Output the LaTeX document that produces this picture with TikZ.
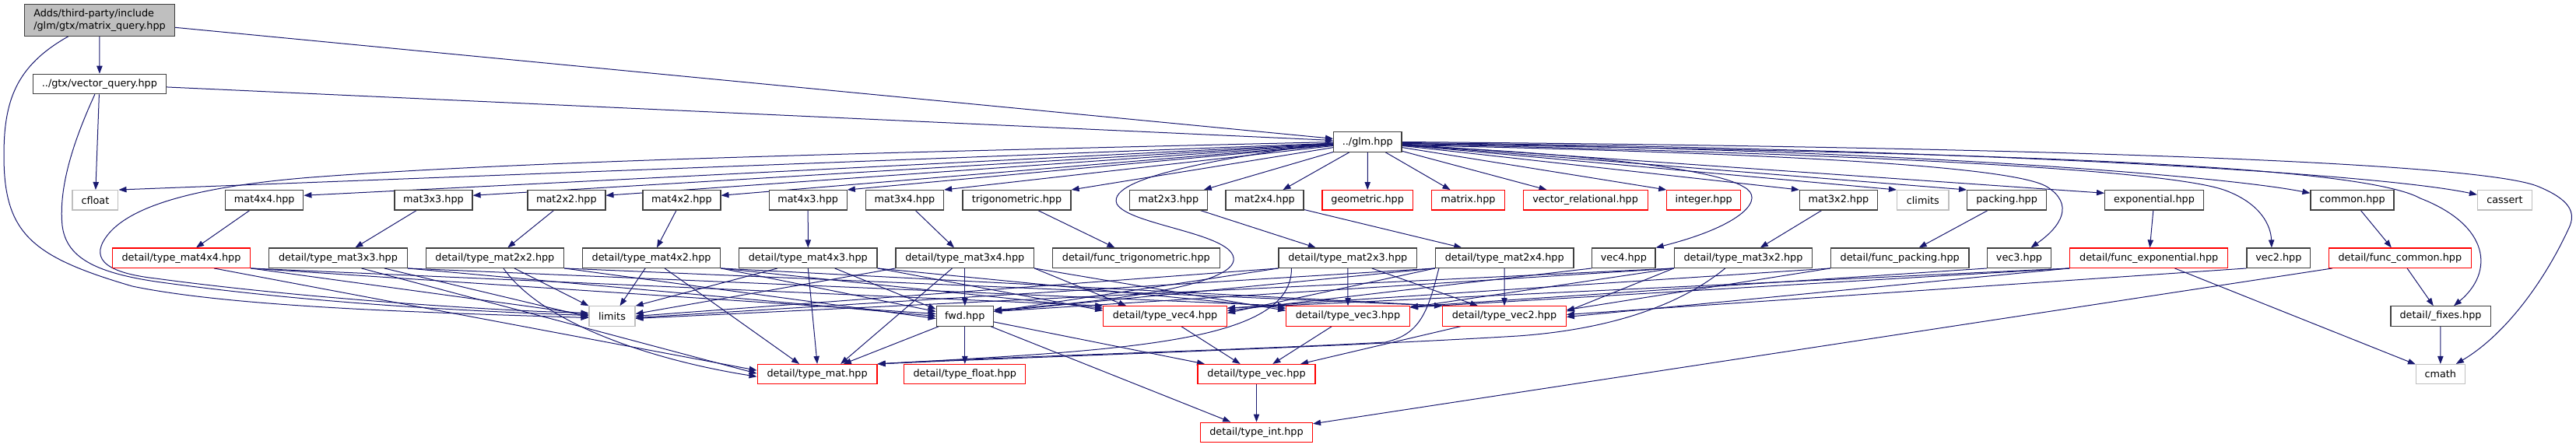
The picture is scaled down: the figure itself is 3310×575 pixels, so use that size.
\documentclass[tikz,border=0pt]{standalone}
\usepackage{fontspec}
\setmainfont{DejaVu Sans}
\usetikzlibrary{arrows.meta,calc}
\definecolor{edgeblue}{HTML}{191970}
\definecolor{nodegray}{HTML}{404040}
\definecolor{sysgray}{HTML}{BFBFBF}
\definecolor{rootfill}{HTML}{BFBFBF}
\definecolor{nodered}{HTML}{FF0000}
\pgfdeclarelayer{bg}
\pgfdeclarelayer{paper}
\pgfsetlayers{paper,bg,main}
\tikzset{
  nb/.style={draw=nodegray, line width=0.9pt, fill=white, inner sep=0pt, minimum height=19pt, font={\fontsize{9.6pt}{11.5pt}\selectfont}},
  nr/.style={nb, draw=nodered},
  ns/.style={nb, draw=sysgray},
  e/.style={draw=edgeblue, line width=0.75pt, -{Triangle[length=7.5pt,width=5.5pt]}},
}
\begin{document}
\begin{tikzpicture}[x=0.75pt,y=-0.75pt]
\begin{pgfonlayer}{paper}
\fill[white] (0,0) rectangle (3310,575);
\end{pgfonlayer}
\useasboundingbox (0,0) rectangle (3310,575);
% ---------- nodes ----------
\node[nb,fill=rootfill,minimum width=144.75pt,minimum height=30.2pt,align=left] (root) at (128,26) {Adds/third-party/include\\/glm/gtx/matrix\_query.hpp};
\node[nb,minimum width=128pt] (vq) at (127.9,108) {../gtx/vector\_query.hpp};
\node[nb,minimum width=65.6pt] (glm) at (1757.3,182.5) {../glm.hpp};
% row 2
\node[ns,minimum width=44.2pt] (cfloat) at (122.4,257.3) {cfloat};
\node[nb,minimum width=75pt] (mat4x4) at (339.8,257.3) {mat4x4.hpp};
\node[nb,minimum width=75pt] (mat3x3) at (557,257.3) {mat3x3.hpp};
\node[nb,minimum width=75pt] (mat2x2) at (727.9,257.3) {mat2x2.hpp};
\node[nb,minimum width=75pt] (mat4x2) at (875.9,257.3) {mat4x2.hpp};
\node[nb,minimum width=75pt] (mat4x3) at (1038.2,257.3) {mat4x3.hpp};
\node[nb,minimum width=75pt] (mat3x4) at (1162.5,257.3) {mat3x4.hpp};
\node[nb,minimum width=104.25pt] (trig) at (1306.5,257.3) {trigonometric.hpp};
\node[nb,minimum width=75pt] (mat2x3) at (1501.4,257.3) {mat2x3.hpp};
\node[nb,minimum width=75pt] (mat2x4) at (1625,257.3) {mat2x4.hpp};
\node[nr,minimum width=87.4pt] (geometric) at (1757.2,257.3) {geometric.hpp};
\node[nr,minimum width=70.2pt] (matrix) at (1886.4,257.3) {matrix.hpp};
\node[nr,minimum width=120pt] (vrel) at (2037.1,257.3) {vector\_relational.hpp};
\node[nr,minimum width=71.1pt] (integer) at (2189.2,257.3) {integer.hpp};
\node[nb,minimum width=75pt] (mat3x2) at (2362.5,257.3) {mat3x2.hpp};
\node[ns,minimum width=49.9pt] (climits) at (2470.8,257.3) {climits};
\node[nb,minimum width=76.4pt] (packing) at (2578.6,257.3) {packing.hpp};
\node[nb,minimum width=95.1pt] (exponential) at (2768,257.3) {exponential.hpp};
\node[nb,minimum width=80.25pt] (common) at (3022.5,257.3) {common.hpp};
\node[ns,minimum width=52.5pt] (cassert) at (3218.5,257.3) {cassert};
% row 3
\node[nr,minimum width=133.1pt] (tm4x4) at (233,331.7) {detail/type\_mat4x4.hpp};
\node[nb,minimum width=133.1pt] (tm3x3) at (434.5,331.7) {detail/type\_mat3x3.hpp};
\node[nb,minimum width=133.1pt] (tm2x2) at (635.9,331.7) {detail/type\_mat2x2.hpp};
\node[nb,minimum width=133.1pt] (tm4x2) at (837.1,331.7) {detail/type\_mat4x2.hpp};
\node[nb,minimum width=133.1pt] (tm4x3) at (1038.3,331.7) {detail/type\_mat4x3.hpp};
\node[nb,minimum width=133.1pt] (tm3x4) at (1239.8,331.7) {detail/type\_mat3x4.hpp};
\node[nb,minimum width=161pt] (ftrig) at (1459.8,331.7) {detail/func\_trigonometric.hpp};
\node[nb,minimum width=133.1pt] (tm2x3) at (1731.8,331.7) {detail/type\_mat2x3.hpp};
\node[nb,minimum width=133.1pt] (tm2x4) at (1933.2,331.7) {detail/type\_mat2x4.hpp};
\node[nb,minimum width=61pt] (vec4) at (2086.4,331.7) {vec4.hpp};
\node[nb,minimum width=133.1pt] (tm3x2) at (2240,331.7) {detail/type\_mat3x2.hpp};
\node[nb,minimum width=133.2pt] (fpack) at (2441.2,331.7) {detail/func\_packing.hpp};
\node[nb,minimum width=61.4pt] (vec3) at (2594.5,331.7) {vec3.hpp};
\node[nr,minimum width=152.1pt] (fexp) at (2761.2,331.7) {detail/func\_exponential.hpp};
\node[nb,minimum width=61.3pt] (vec2) at (2927.9,331.7) {vec2.hpp};
\node[nr,minimum width=137.1pt] (fcommon) at (3083.8,331.7) {detail/func\_common.hpp};
% row 4
\node[ns,minimum width=44.2pt] (limits) at (786.5,406.5) {limits};
\node[nb,minimum width=54.9pt] (fwd) at (1239.8,406.5) {fwd.hpp};
\node[nr,minimum width=119pt] (tv4) at (1497.1,406.5) {detail/type\_vec4.hpp};
\node[nr,minimum width=119pt] (tv3) at (1732,406.5) {detail/type\_vec3.hpp};
\node[nr,minimum width=119pt] (tv2) at (1933,406.5) {detail/type\_vec2.hpp};
\node[nb,minimum width=96.2pt] (fixes) at (3136,406.5) {detail/\_fixes.hpp};
% row 5
\node[nr,minimum width=115.4pt] (tmat) at (1050.1,481.2) {detail/type\_mat.hpp};
\node[nr,minimum width=117.1pt] (tfloat) at (1239.8,481.2) {detail/type\_float.hpp};
\node[nr,minimum width=113.3pt] (tvec) at (1614.5,481.2) {detail/type\_vec.hpp};
\node[ns,minimum width=46.9pt] (cmath) at (3135.8,481.2) {cmath};
% row 6
\node[nr,minimum width=107.9pt] (tint) at (1614.5,555.8) {detail/type\_int.hpp};
% ---------- edges ----------
\begin{pgfonlayer}{bg}
% root
\draw[e] (root) -- (vq);
\draw[e] (root) -- (glm);
\draw[e] ($(root.south west)+(57,0)$) .. controls (20,85) and (5,130) .. (5,200) .. controls (5,300) and (40,330) .. (170,368) .. controls (300,395) and (550,402) .. ($(limits.west)+(0,2)$);
% vector_query
\draw[e] (vq) -- (glm);
\draw[e] (vq) -- (cfloat);
\draw[e] ($(vq.south)+(-6,0)$) .. controls (95,180) and (75,240) .. (80,290) .. controls (85,330) and (120,350) .. (200,362) .. controls (400,390) and (600,400) .. ($(limits.west)+(0,-1)$);
% glm
\draw[e] (glm) -- (cfloat.north east);
\draw[e] (glm.west) .. controls (1200,195) and (700,205) .. (400,228) .. controls (250,240) and (170,265) .. (140,300) .. controls (115,330) and (130,350) .. (200,358) .. controls (400,385) and (650,400) .. ($(limits.west)+(0,-4)$);
\draw[e] (glm) -- ($(mat4x4.east)+(0,-6)$);
\draw[e] (glm) -- ($(mat3x3.east)+(0,-6)$);
\draw[e] (glm) -- ($(mat2x2.east)+(0,-6)$);
\draw[e] (glm) -- ($(mat4x2.east)+(0,-6)$);
\draw[e] (glm) -- (mat4x3.north east);
\draw[e] (glm) -- (mat3x4.north east);
\draw[e] (glm) -- (trig.north east);
\draw[e] (glm) -- (mat2x3);
\draw[e] (glm) -- (mat2x4);
\draw[e] (glm) -- (geometric);
\draw[e] (glm) -- (matrix);
\draw[e] (glm) -- (vrel);
\draw[e] (glm) -- (integer.north west);
\draw[e] (glm) -- (mat3x2.north west);
\draw[e] (glm) -- (climits.north west);
\draw[e] (glm) -- (packing.north west);
\draw[e] (glm) -- ($(exponential.west)+(0,-9)$);
\draw[e] ($(glm.east)+(0,2)$) .. controls (2400,190) and (2850,225) .. ($(common.west)+(0,-9)$);
\draw[e] ($(glm.east)+(0,1)$) .. controls (2500,190) and (3050,222) .. ($(cassert.west)+(0,-7)$);
\draw[e] ($(glm.east)+(0,5)$) .. controls (2000,195) and (2200,215) .. (2240,240) .. controls (2270,255) and (2240,290) .. (vec4.north east);
\draw[e] ($(glm.east)+(0,4)$) .. controls (2200,195) and (2580,210) .. (2630,240) .. controls (2665,262) and (2650,290) .. ($(vec3.north)+(15,0)$);
\draw[e] ($(glm.east)+(0,3)$) .. controls (2300,195) and (2780,215) .. (2860,245) .. controls (2905,262) and (2918,290) .. ($(vec2.north)+(-9,0)$);
\draw[e] ($(glm.east)+(0,2)$) .. controls (2400,195) and (3020,205) .. (3110,255) .. controls (3200,290) and (3205,350) .. ($(fixes.north)+(17,0)$);
\draw[e] (glm.east) .. controls (2500,188) and (3180,205) .. (3262,240) .. controls (3300,256) and (3312,272) .. (3300,295) .. controls (3270,360) and (3220,430) .. ($(cmath.north)+(20,0)$);
\draw[e] (glm.west) .. controls (1600,200) and (1420,225) .. (1435,262) .. controls (1450,290) and (1590,300) .. (1585,335) .. controls (1580,370) and (1400,390) .. ($(fwd.east)+(0,-8)$);
% row 2 -> row 3
\draw[e] (mat4x4) -- (tm4x4);
\draw[e] (mat3x3) -- (tm3x3);
\draw[e] (mat2x2) -- (tm2x2);
\draw[e] (mat4x2) -- (tm4x2);
\draw[e] (mat4x3) -- (tm4x3);
\draw[e] (mat3x4) -- (tm3x4);
\draw[e] (trig) -- (ftrig);
\draw[e] (mat2x3) -- (tm2x3);
\draw[e] (mat2x4) -- (tm2x4);
\draw[e] (mat3x2) -- (tm3x2);
\draw[e] (packing) -- (fpack);
\draw[e] (exponential) -- (fexp);
\draw[e] (common) -- (fcommon);
% type_mat4x4
\draw[e] ($(tm4x4.south)+(42,0)$) -- ($(tmat.west)+(0,-5)$);
\draw[e] (tm4x4.south east) -- ($(limits.west)+(0,-2)$);
\draw[e] (tm4x4.south east) -- ($(fwd.west)+(0,-3)$);
\draw[e] (tm4x4.south east) -- (tv4.north west);
% type_mat3x3
\draw[e] ($(tm3x3.south)+(30,0)$) -- ($(tmat.west)+(0,-1)$);
\draw[e] ($(tm3x3.south east)+(-30,0)$) -- ($(limits.west)+(0,1)$);
\draw[e] (tm3x3.south east) -- (fwd.west);
\draw[e] (tm3x3.south east) -- (tv3.north west);
% type_mat2x2
\draw[e] ($(tm2x2.south)+(11,0)$) .. controls (700,420) and (850,465) .. ($(tmat.west)+(0,3)$);
\draw[e] ($(tm2x2.south)+(25,0)$) -- (limits.north west);
\draw[e] (tm2x2.south east) -- ($(fwd.west)+(0,3)$);
\draw[e] (tm2x2.south east) -- (tv2.north west);
% type_mat4x2
\draw[e] ($(tm4x2.south)+(-8,0)$) -- ($(limits.north)+(10,0)$);
\draw[e] ($(tm4x2.south)+(17,0)$) -- ($(tmat.north)+(-23,0)$);
\draw[e] (tm4x2.south east) -- ($(fwd.west)+(0,-6)$);
\draw[e] (tm4x2.south east) -- (tv2.north west);
\draw[e] (tm4x2.south east) -- ($(tv4.north west)+(0,3)$);
% type_mat4x3
\draw[e] ($(tm4x3.south west)+(50,0)$) -- (limits.north east);
\draw[e] (tm4x3.south) -- (tmat.north);
\draw[e] ($(tm4x3.south east)+(-55,0)$) -- ($(fwd.west)+(0,-9)$);
\draw[e] (tm4x3.south east) -- ($(tv3.north west)+(0,3)$);
\draw[e] (tm4x3.south east) -- ($(tv4.north west)+(0,6)$);
% type_mat3x4
\draw[e] (tm3x4.south) -- (fwd.north);
\draw[e] ($(tm3x4.south west)+(73,0)$) -- ($(tmat.north)+(30,0)$);
\draw[e] (tm3x4.south west) -- ($(limits.east)+(0,-3)$);
\draw[e] (tm3x4.south east) -- ($(tv3.north west)+(0,6)$);
\draw[e] (tm3x4.south east) -- ($(tv4.north west)+(30,0)$);
% type_mat2x3
\draw[e] (tm2x3.south) -- (tv3.north);
\draw[e] ($(tm2x3.south)+(31,0)$) -- ($(tv2.north)+(-34,0)$);
\draw[e] (tm2x3.south west) -- ($(fwd.east)+(0,-6)$);
\draw[e] (tm2x3.south west) -- (limits.east);
\draw[e] ($(tm2x3.south west)+(17,0)$) .. controls (1660,440) and (1450,450) .. (tmat.north east);
% type_mat2x4
\draw[e] (tm2x4.south) -- (tv2.north);
\draw[e] (tm2x4.south west) -- ($(tv4.east)+(0,-4)$);
\draw[e] (tm2x4.south west) -- ($(fwd.east)+(0,-6)$);
\draw[e] (tm2x4.south west) -- ($(limits.east)+(0,2)$);
\draw[e] ($(tm2x4.south west)+(5,0)$) .. controls (1835,400) and (1825,430) .. (1780,440) .. controls (1600,450) and (1300,458) .. (tmat.north east);
% type_mat3x2
\draw[e] (tm3x2.south west) -- ($(tv2.east)+(0,-6)$);
\draw[e] (tm3x2.south west) -- ($(tv3.north east)+(0,2)$);
\draw[e] (tm3x2.south west) -- ($(fwd.east)+(0,-6)$);
\draw[e] (tm3x2.south west) -- ($(limits.east)+(0,3)$);
\draw[e] ($(tm3x2.south west)+(66,0)$) .. controls (2150,400) and (2050,425) .. (1950,432) .. controls (1700,447) and (1350,458) .. (tmat.north east);
% vecN
\draw[e] (vec4.south west) -- ($(tv4.east)+(0,-7)$);
\draw[e] (vec3.south west) -- ($(tv3.north east)+(0,1)$);
\draw[e] (vec2.south west) -- ($(tv2.east)+(0,-2)$);
% func_packing
\draw[e] (fpack.south west) -- ($(tv2.east)+(0,-8)$);
\draw[e] (fpack.south west) -- ($(tv4.north east)+(0,3)$);
% func_exponential
\draw[e] (fexp.south west) -- ($(tv2.east)+(0,1)$);
\draw[e] (fexp.south west) -- ($(tv3.north east)+(0,2)$);
\draw[e] (fexp.south west) -- ($(tv4.north east)+(0,3)$);
\draw[e] (fexp) -- (cmath);
% func_common, fixes
\draw[e] (fcommon) -- (fixes);
\draw[e] (fcommon) -- (tint);
\draw[e] (fixes) -- (cmath);
% vec types
\draw[e] (tv4) -- (tvec);
\draw[e] (tv3) -- (tvec);
\draw[e] (tv2) -- (tvec);
\draw[e] (tvec) -- (tint);
% fwd
\draw[e] (fwd) -- (tmat);
\draw[e] (fwd) -- (tfloat);
\draw[e] (fwd) -- (tvec);
\draw[e] (fwd) -- (tint);
\end{pgfonlayer}
\end{tikzpicture}
\end{document}
